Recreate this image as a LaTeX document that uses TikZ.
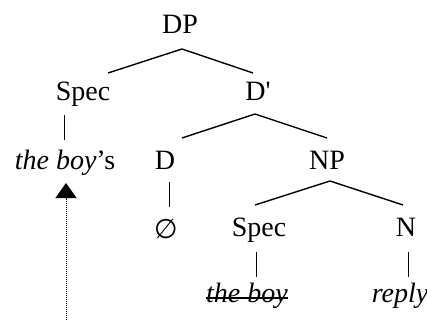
\documentclass[tikz,border=0pt]{standalone}
\usepackage{fontspec}
\setmainfont{Liberation Serif}
\newfontfamily\symfont{DejaVu Sans}
\newfontfamily\rawserif[Ligatures=TeXOff]{Liberation Serif}
\usetikzlibrary{calc,arrows.meta}
\begin{document}
\begin{tikzpicture}[x=1pt,y=-1pt,
  every node/.style={font=\fontsize{28}{33}\selectfont, inner sep=0pt, anchor=base},
  branch/.style={line width=1.4pt},
  stem/.style={line width=0.8pt}]
\useasboundingbox (0,0) rectangle (427,320);
\node (DP) at (180,34) {DP};
\node (Spec1) at (83,101) {Spec};
\node (Dbar) at (258,101) {D{\rawserif\fontsize{28}{33}\selectfont '}};
\node (Poss) at (65,169) {\textit{the boy}’s};
\node (D) at (165,169) {D};
\node (NP) at (327,169) {NP};
\node (Null) at (166,238) {\symfont\fontsize{27}{30}\selectfont ∅};
\node (Spec2) at (259,236) {Spec};
\node (N) at (406,236) {N};
\node (Trace) at (247,302) {\textit{the boy}};
\node (Reply) at (400,302) {\textit{reply}};
\coordinate (ArrowStart) at (66,320);
% branches
\draw[branch] ($(DP.base)+(2,15)$) -- ($(Spec1.base)+(25,-28)$);
\draw[branch] ($(DP.base)+(2,15)$) -- ($(Dbar.base)+(-5,-28)$);
\draw[branch] ($(Dbar.base)+(-3,13)$) -- ($(D.base)+(17,-31)$);
\draw[branch] ($(Dbar.base)+(-3,13)$) -- ($(NP.base)+(0,-31)$);
\draw[branch] ($(NP.base)+(3,12)$) -- ($(Spec2.base)+(-4,-31)$);
\draw[branch] ($(NP.base)+(3,12)$) -- ($(N.base)+(-3,-31)$);
% stems
\draw[stem] ($(Spec1.base)+(-19,14)$) -- ($(Poss.base)+(-1,-29)$);
\draw[stem] ($(D.base)+(4,13)$) -- ($(Null.base)+(3,-31)$);
\draw[stem] ($(Spec2.base)+(-3,16)$) -- ($(Trace.base)+(9,-25)$);
\draw[stem] ($(N.base)+(2,16)$) -- ($(Reply.base)+(8,-25)$);
% strike-through
\draw[line width=1.3pt] ($(Trace.base west)+(0,-4)$) -- ($(Trace.base east)+(0,-4)$);
% movement arrow
\draw[line width=1pt, dash pattern=on 1pt off 1pt, -{Triangle[width=21pt,length=15pt]}] (ArrowStart) -- ($(Poss.base)+(1,14)$);
\end{tikzpicture}
\end{document}
